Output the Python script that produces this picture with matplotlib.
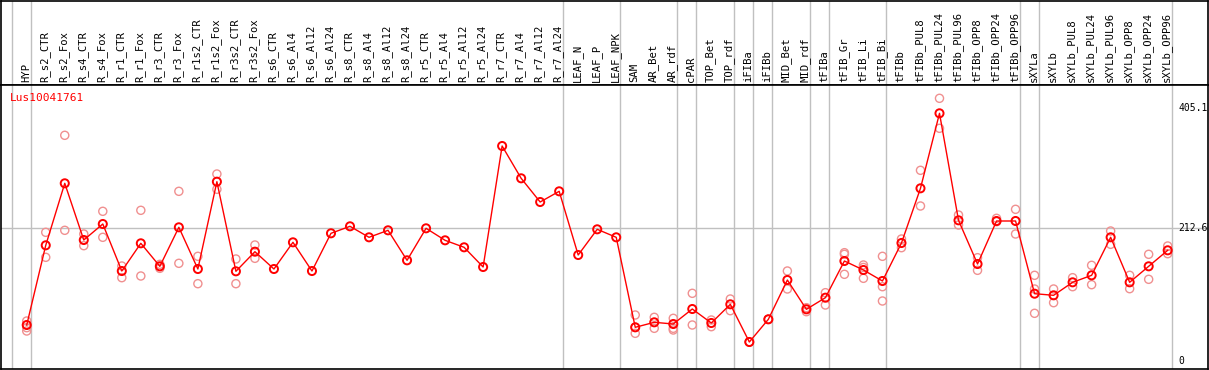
import numpy as np
import matplotlib
matplotlib.use("Agg")
import matplotlib.pyplot as plt
import matplotlib.transforms as mtransforms

# categories (left to right)
samples = ["HYP", "R_s2_CTR", "R_s2_Fox", "R_s4_CTR", "R_s4_Fox", "R_r1_CTR", "R_r1_Fox",
           "R_r3_CTR", "R_r3_Fox", "R_r1s2_CTR", "R_r1s2_Fox", "R_r3s2_CTR", "R_r3s2_Fox",
           "R_s6_CTR", "R_s6_Al4", "R_s6_Al12", "R_s6_Al24", "R_s8_CTR", "R_s8_Al4",
           "R_s8_Al12", "R_s8_Al24", "R_r5_CTR", "R_r5_Al4", "R_r5_Al12", "R_r5_Al24",
           "R_r7_CTR", "R_r7_Al4", "R_r7_Al12", "R_r7_Al24", "LEAF_N", "LEAF_P", "LEAF_NPK",
           "SAM", "AR_Bet", "AR_rdf", "cPAR", "TOP_Bet", "TOP_rdf", "iFIBa", "iFIBb",
           "MID_Bet", "MID_rdf", "tFIBa", "tFIB_Gr", "tFIB_Li", "tFIB_Bi", "tFIBb",
           "tFIBb_PUL8", "tFIBb_PUL24", "tFIBb_PUL96", "tFIBb_OPP8", "tFIBb_OPP24", "tFIBb_OPP96",
           "sXYLa", "sXYLb", "sXYLb_PUL8", "sXYLb_PUL24", "sXYLb_PUL96", "sXYLb_OPP8",
           "sXYLb_OPP24", "sXYLb_OPP96"]

# mean expression per sample
means = [57.9, 185.4, 284.6, 193.9, 219.5, 144.3, 188.6, 151.8, 214.2, 147.5, 287.2, 143.8, 175.2,
         147.5, 190.2, 144.3, 204.6, 215.8, 198.2, 209.4, 161.4, 212.6, 193.4, 182.2, 150.7,
         344.3, 292.6, 254.7, 271.8, 169.9, 211.0, 198.2,
         54.2, 62.2, 59.5, 83.5, 61.1, 91.0, 30.7, 67.0, 129.9, 83.0, 101.6, 160.3, 145.9, 128.3,
         189.1, 276.6, 396.6, 225.4, 155.5, 224.3, 224.3,
         108.0, 105.4, 126.2, 137.4, 198.2, 126.2, 151.8, 177.4]

# replicate values (empty where none are shown)
reps = [[64.3, 53.6, 48.3], [206.2, 166.2], [361.4, 209.4], [203.5, 184.8], [239.8, 198.2],
        [152.3, 133.6], [241.4, 136.3], [155.0, 148.6], [271.8, 156.6], [167.8, 124.0],
        [299.5, 275.0], [163.5, 124.0], [185.9, 164.6],
        [], [], [], [], [], [], [], [], [], [], [], [], [], [], [], [], [], [], [],
        [73.9, 44.6, 54.2], [70.2, 52.6], [68.6, 49.9, 52.6], [108.6, 57.9], [65.9, 55.2],
        [99.5, 80.8], [30.7, 30.7], [67.0, 67.0], [144.3, 115.5], [85.6, 79.2], [109.6, 89.9],
        [173.6, 171.0, 139.0], [153.9, 132.6, 150.0], [167.8, 119.2, 96.3], [195.5, 181.6],
        [305.4, 248.3], [420.6, 372.6], [233.9, 217.9], [165.6, 145.4], [228.6, 223.2],
        [243.0, 203.5],
        [137.4, 115.5, 76.6], [115.5, 93.6], [133.6, 119.2], [153.4, 122.4], [208.3, 187.0],
        [137.4, 116.0], [171.0, 131.0], [184.3, 172.0]]

# group separators come after these sample indices
separators = [-1, 0, 28, 31, 34, 35, 37, 38, 39, 41, 42, 45, 52, 53, 60]

gene = "Lus10041761"
y_marks = [405.1, 212.6, 0]
ref_line = 212.6

W, H = 1209, 370
fig = plt.figure(figsize=(W / 100, H / 100), dpi=100)

def px_box(x0, y0, x1, y1):
    return [x0 / W, 1 - y1 / H, (x1 - x0) / W, (y1 - y0) / H]

xlim = (-1.353, 62.12)
mono = "DejaVu Sans Mono"
grey = "#c0c0c0"

# header with rotated sample names
head = fig.add_axes(px_box(1, 0.5, 1208, 85))
head.set_xlim(*xlim)
head.set_ylim(0, 1)
head.set_xticks([])
head.set_yticks([])
for s in head.spines.values():
    s.set_linewidth(1.2)
for i, name in enumerate(samples):
    head.text(i - 0.05, 0.04, name, rotation=90, ha="center", va="bottom",
              family=mono, fontsize=7.6, color="black")
for s in separators:
    head.axvline(s + 0.21, color=grey, lw=1.0)

# main plot
ax = fig.add_axes(px_box(1, 85, 1208, 369))
ax.set_xlim(*xlim)
ax.set_ylim(-12.5, 441.9)
ax.set_xticks([])
ax.set_yticks([])
for s in ax.spines.values():
    s.set_linewidth(1.2)

for s in separators:
    ax.axvline(s + 0.21, color=grey, lw=1.0, zorder=1)
ax.axhline(ref_line, color=grey, lw=1.0, zorder=1)

x = np.arange(len(samples))
for i, r in enumerate(reps):
    if r:
        ax.scatter([i] * len(r), r, s=34, facecolors="none", edgecolors="#f09090",
                   linewidths=1.0, zorder=2)
ax.plot(x, means, color="red", lw=1.0, zorder=3)
ax.scatter(x, means, s=34, facecolors="none", edgecolors="red", linewidths=1.4, zorder=4)

ax.text(0.007, 0.955, gene, transform=ax.transAxes, color="red", family=mono,
        fontsize=8, ha="left", va="center")
trans = mtransforms.blended_transform_factory(ax.transAxes, ax.transData)
for v in y_marks:
    ax.text(0.9755, v, str(v) if v else "0", transform=trans, family=mono, fontsize=7,
            ha="left", va="center", color="black")

fig.savefig("out.png", dpi=100)
